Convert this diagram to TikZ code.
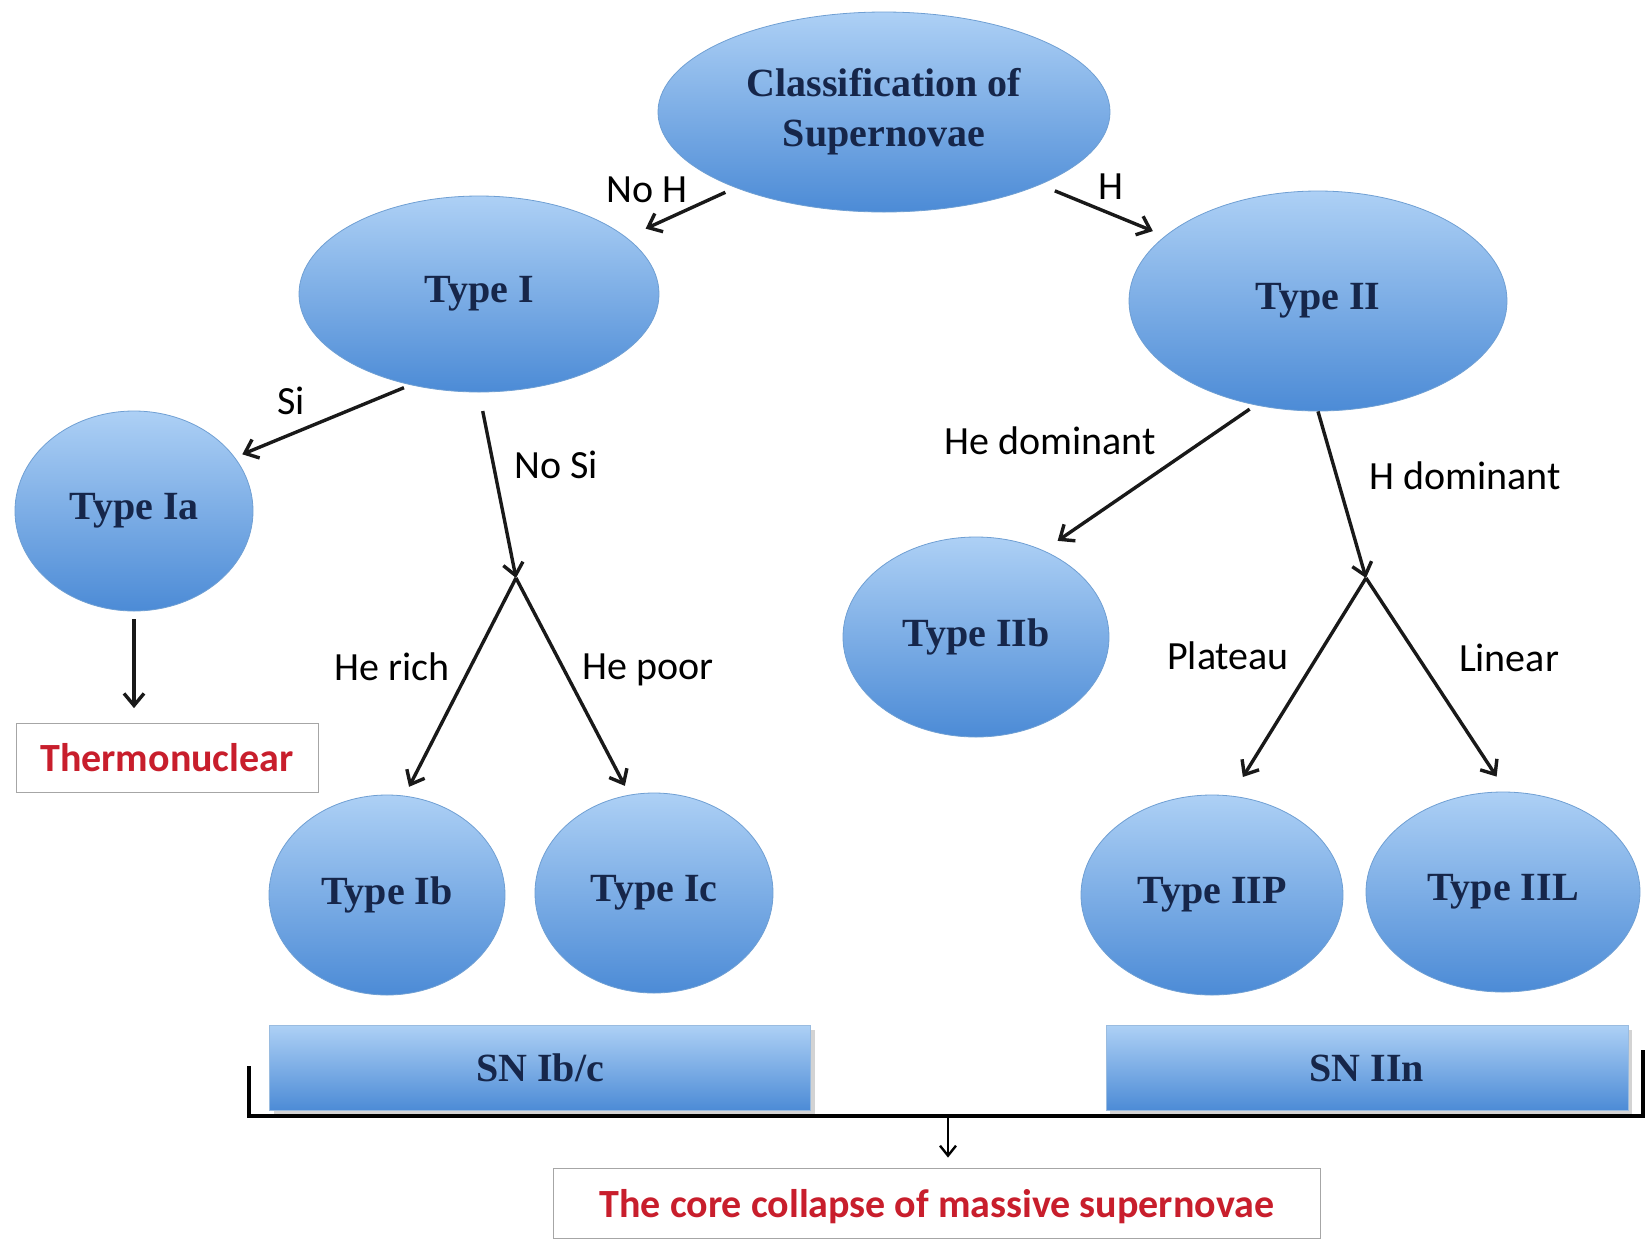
\documentclass[tikz,border=0pt]{standalone}
\usepackage{fontspec}
\setmainfont{Liberation Serif}
\newfontfamily\labelfont{Carlito}
\usetikzlibrary{shapes.geometric,arrows.meta,shadows}
\definecolor{bluetop}{HTML}{ADD0F5}
\definecolor{bluebot}{HTML}{4C8BD6}
\definecolor{blueedge}{HTML}{6F9FD3}
\definecolor{navytext}{HTML}{16264A}
\definecolor{redtext}{HTML}{C81E2C}
\tikzset{
  sntype/.style={ellipse, draw=blueedge, top color=bluetop, bottom color=bluebot,
    text=navytext, font=\fontsize{20}{25}\selectfont\bfseries, inner sep=0pt, align=center},
  snbar/.style={rectangle, draw=blueedge!70, top color=bluetop, bottom color=bluebot,
    text=navytext, font=\fontsize{20}{24}\selectfont\bfseries, inner sep=0pt,
    drop shadow={shadow xshift=2pt, shadow yshift=-2pt, opacity=.35}},
  outcome/.style={rectangle, draw=gray!70, fill=white, text=redtext,
    font=\labelfont\bfseries\fontsize{20}{24}\selectfont, inner sep=0pt},
  branch/.style={font=\labelfont\fontsize{20}{24}\selectfont, inner sep=1pt},
  link/.style={->, line width=1.7pt, draw=black!90},
}
\begin{document}
\begin{tikzpicture}[x=0.5pt,y=-0.5pt,>={Straight Barb[length=6pt,width=10pt]}]
\useasboundingbox (0,0) rectangle (1646,1239);

% The types
\node[sntype, minimum width=226pt, minimum height=100pt] (root) at (884,112) {Classification of\\Supernovae};
\node[sntype, minimum width=180pt, minimum height=98pt] (typeI) at (479,294) {Type I};
\node[sntype, minimum width=189pt, minimum height=110pt] (typeII) at (1318,301) {Type II};
\node[sntype, minimum width=119pt, minimum height=100pt] (typeIa) at (134,511) {Type Ia};
\node[sntype, minimum width=118pt, minimum height=100pt] (typeIb) at (387,895) {Type Ib};
\node[sntype, minimum width=119pt, minimum height=100pt] (typeIc) at (654,893) {Type Ic};
\node[sntype, minimum width=133pt, minimum height=100pt] (typeIIb) at (976,637) {Type IIb};
\node[sntype, minimum width=131pt, minimum height=100pt] (typeIIP) at (1212,895) {Type IIP};
\node[sntype, minimum width=137pt, minimum height=100pt] (typeIIL) at (1503,892) {Type IIL};

% The boxes
\node[outcome, minimum width=151pt, minimum height=34.5pt] (thermo) at (167,758) {Thermonuclear};
\node[snbar, minimum width=270.5pt, minimum height=42.5pt] (snIbc) at (540,1068) {SN Ib/c};
\node[snbar, minimum width=261pt, minimum height=42.5pt] (snIIn) at (1367,1068) {SN IIn};
\node[outcome, minimum width=383.5pt, minimum height=35pt, text depth=-2pt] (core) at (937,1203) {The core collapse of massive supernovae};

% The forks
\coordinate (forkI) at (516,578);
\coordinate (forkII) at (1366,578);

% The arrows
\draw[link, shorten <=5.5pt, shorten >=10.5pt] (root.207) -- (typeI.21);
\draw[link, shorten <=8pt, shorten >=6.5pt] (root.335) -- (typeII.157);
\draw[link, shorten <=3.5pt, shorten >=4pt] (typeI.233) -- (typeIa.28);
\draw[link, shorten <=9.5pt] (typeI.270) -- (forkI);
\draw[link, shorten >=5pt] (forkI) -- (typeIb.80);
\draw[link, shorten >=5pt] (forkI) -- (typeIc.104);
\draw[link, shorten <=4pt, shorten >=7.5pt] (typeIa.south) -- (typeIa.south |- thermo.north);
\draw[link, shorten <=3.5pt, shorten >=8.5pt] (typeII.239) -- (typeIIb.52);
\draw[link] (typeII.270) -- (forkII);
\draw[link, shorten >=11pt] (forkII) -- (typeIIP.79);
\draw[link, shorten >=9pt] (forkII) -- (typeIIL.88);

% The labels
\node[branch] (lblNoH) at (647,190) {No H};
\node[branch] (lblH) at (1111,187) {H};
\node[branch] (lblSi) at (291,401) {Si};
\node[branch] (lblNoSi) at (556,465) {No Si};
\node[branch] (lblHeRich) at (392,667) {He rich};
\node[branch] (lblHePoor) at (648,670) {He poor};
\node[branch] (lblHeDom) at (1050,441) {He dominant};
\node[branch] (lblHDom) at (1465,476) {H dominant};
\node[branch] (lblPlateau) at (1228,656) {Plateau};
\node[branch] (lblLinear) at (1509,658) {Linear};

% The bracket
\coordinate (brL) at (249,1066);
\coordinate (brR) at (1643,1050);
\coordinate (brMid) at (948,1116);
\draw[line width=1.6pt] (brL) -- ++(0,50) -| (brR);
\draw[->, line width=1.2pt, >={Straight Barb[length=5pt,width=8pt]}, shorten >=5pt] (brMid) -- (brMid |- core.north);
\end{tikzpicture}
\end{document}
